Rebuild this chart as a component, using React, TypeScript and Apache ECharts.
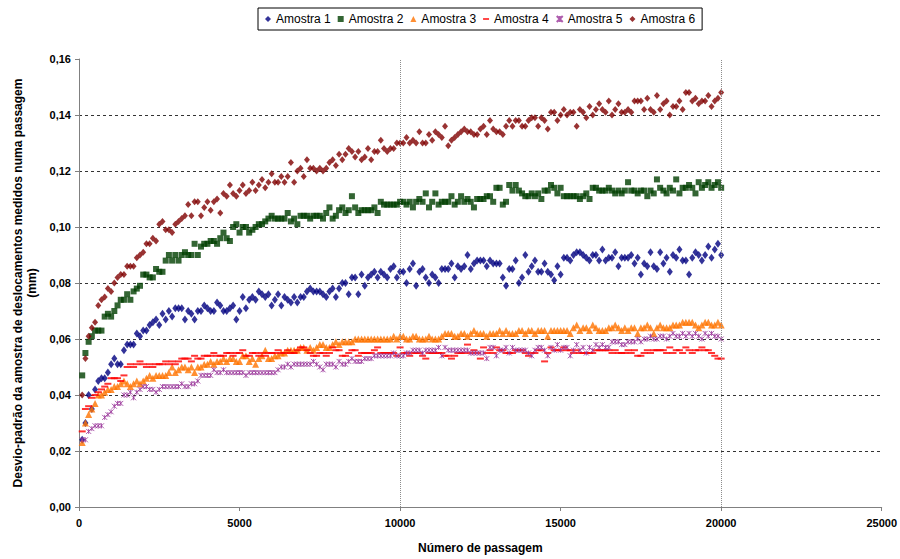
import React, { useEffect, useRef } from "react";
import * as echarts from "echarts";

const passagens = [
  100, 200, 300, 400, 500, 600, 700, 800, 900, 1000, 1100, 1200, 1300, 1400, 1500, 1600, 1700, 1800, 1900, 2000,
  2100, 2200, 2300, 2400, 2500, 2600, 2700, 2800, 2900, 3000, 3100, 3200, 3300, 3400, 3500, 3600, 3700, 3800, 3900, 4000,
  4100, 4200, 4300, 4400, 4500, 4600, 4700, 4800, 4900, 5000, 5100, 5200, 5300, 5400, 5500, 5600, 5700, 5800, 5900, 6000,
  6100, 6200, 6300, 6400, 6500, 6600, 6700, 6800, 6900, 7000, 7100, 7200, 7300, 7400, 7500, 7600, 7700, 7800, 7900, 8000,
  8100, 8200, 8300, 8400, 8500, 8600, 8700, 8800, 8900, 9000, 9100, 9200, 9300, 9400, 9500, 9600, 9700, 9800, 9900, 10000,
  10100, 10200, 10300, 10400, 10500, 10600, 10700, 10800, 10900, 11000, 11100, 11200, 11300, 11400, 11500, 11600, 11700, 11800, 11900, 12000,
  12100, 12200, 12300, 12400, 12500, 12600, 12700, 12800, 12900, 13000, 13100, 13200, 13300, 13400, 13500, 13600, 13700, 13800, 13900, 14000,
  14100, 14200, 14300, 14400, 14500, 14600, 14700, 14800, 14900, 15000, 15100, 15200, 15300, 15400, 15500, 15600, 15700, 15800, 15900, 16000,
  16100, 16200, 16300, 16400, 16500, 16600, 16700, 16800, 16900, 17000, 17100, 17200, 17300, 17400, 17500, 17600, 17700, 17800, 17900, 18000,
  18100, 18200, 18300, 18400, 18500, 18600, 18700, 18800, 18900, 19000, 19100, 19200, 19300, 19400, 19500, 19600, 19700, 19800, 19900, 20000,
];

const amostra1 = [
  0.024, 0.030, 0.040, 0.035, 0.042, 0.045, 0.046, 0.046, 0.048, 0.051,
  0.053, 0.051, 0.051, 0.056, 0.058, 0.058, 0.058, 0.062, 0.061, 0.063,
  0.063, 0.065, 0.066, 0.067, 0.065, 0.069, 0.067, 0.070, 0.068, 0.071,
  0.071, 0.071, 0.067, 0.070, 0.069, 0.067, 0.070, 0.070, 0.072, 0.071,
  0.070, 0.070, 0.073, 0.072, 0.070, 0.070, 0.071, 0.072, 0.067, 0.070,
  0.075, 0.071, 0.074, 0.075, 0.074, 0.077, 0.076, 0.075, 0.076, 0.072,
  0.074, 0.076, 0.072, 0.075, 0.074, 0.073, 0.075, 0.073, 0.075, 0.075,
  0.077, 0.078, 0.077, 0.077, 0.077, 0.076, 0.075, 0.077, 0.078, 0.075,
  0.078, 0.080, 0.080, 0.076, 0.082, 0.082, 0.076, 0.083, 0.079, 0.082,
  0.083, 0.084, 0.082, 0.084, 0.083, 0.082, 0.085, 0.086, 0.082, 0.084,
  0.084, 0.080, 0.085, 0.087, 0.079, 0.084, 0.085, 0.082, 0.080, 0.083,
  0.082, 0.080, 0.085, 0.085, 0.085, 0.087, 0.082, 0.086, 0.085, 0.086,
  0.090, 0.085, 0.087, 0.088, 0.088, 0.088, 0.086, 0.088, 0.087, 0.087,
  0.087, 0.082, 0.079, 0.085, 0.085, 0.088, 0.080, 0.082, 0.090, 0.084,
  0.086, 0.088, 0.084, 0.084, 0.087, 0.084, 0.083, 0.081, 0.086, 0.083,
  0.089, 0.089, 0.088, 0.090, 0.091, 0.091, 0.090, 0.089, 0.088, 0.090,
  0.090, 0.088, 0.092, 0.088, 0.089, 0.089, 0.091, 0.086, 0.089, 0.089,
  0.089, 0.090, 0.087, 0.089, 0.083, 0.087, 0.086, 0.091, 0.086, 0.085,
  0.091, 0.087, 0.089, 0.084, 0.090, 0.089, 0.092, 0.088, 0.088, 0.083,
  0.089, 0.091, 0.090, 0.088, 0.090, 0.093, 0.089, 0.092, 0.094, 0.090,
];

const amostra2 = [
  0.047, 0.055, 0.059, 0.061, 0.063, 0.063, 0.063, 0.068, 0.069, 0.068,
  0.070, 0.072, 0.074, 0.074, 0.076, 0.074, 0.077, 0.078, 0.079, 0.083,
  0.083, 0.082, 0.082, 0.085, 0.084, 0.084, 0.088, 0.090, 0.088, 0.090,
  0.088, 0.090, 0.091, 0.090, 0.090, 0.094, 0.090, 0.093, 0.094, 0.094,
  0.095, 0.095, 0.094, 0.096, 0.098, 0.096, 0.095, 0.100, 0.101, 0.098,
  0.100, 0.100, 0.098, 0.099, 0.100, 0.101, 0.101, 0.102, 0.103, 0.104,
  0.103, 0.103, 0.103, 0.103, 0.105, 0.102, 0.103, 0.101, 0.104, 0.104,
  0.104, 0.103, 0.104, 0.104, 0.104, 0.103, 0.105, 0.107, 0.103, 0.104,
  0.106, 0.107, 0.105, 0.106, 0.111, 0.107, 0.105, 0.106, 0.106, 0.106,
  0.106, 0.107, 0.105, 0.109, 0.108, 0.108, 0.108, 0.108, 0.108, 0.109,
  0.109, 0.108, 0.109, 0.107, 0.109, 0.110, 0.109, 0.112, 0.107, 0.109,
  0.112, 0.108, 0.109, 0.109, 0.109, 0.111, 0.108, 0.109, 0.111, 0.109,
  0.110, 0.109, 0.107, 0.110, 0.110, 0.110, 0.111, 0.111, 0.109, 0.114,
  0.114, 0.108, 0.109, 0.115, 0.113, 0.115, 0.113, 0.112, 0.111, 0.111,
  0.112, 0.111, 0.112, 0.110, 0.113, 0.113, 0.115, 0.114, 0.112, 0.114,
  0.111, 0.111, 0.111, 0.111, 0.111, 0.110, 0.111, 0.112, 0.110, 0.114,
  0.114, 0.113, 0.113, 0.113, 0.114, 0.113, 0.112, 0.113, 0.112, 0.113,
  0.116, 0.113, 0.113, 0.112, 0.113, 0.113, 0.111, 0.113, 0.112, 0.117,
  0.114, 0.113, 0.112, 0.114, 0.113, 0.117, 0.112, 0.114, 0.114, 0.115,
  0.114, 0.112, 0.116, 0.114, 0.115, 0.116, 0.114, 0.115, 0.116, 0.114,
];

const amostra3 = [
  0.023, 0.030, 0.033, 0.035, 0.037, 0.040, 0.040, 0.041, 0.042, 0.042,
  0.043, 0.043, 0.044, 0.045, 0.044, 0.043, 0.044, 0.045, 0.044, 0.045,
  0.046, 0.047, 0.046, 0.047, 0.047, 0.047, 0.047, 0.048, 0.050, 0.048,
  0.049, 0.050, 0.050, 0.049, 0.050, 0.048, 0.050, 0.050, 0.051, 0.051,
  0.052, 0.051, 0.052, 0.052, 0.053, 0.052, 0.053, 0.053, 0.052, 0.052,
  0.054, 0.054, 0.052, 0.053, 0.051, 0.053, 0.054, 0.056, 0.053, 0.053,
  0.054, 0.054, 0.055, 0.055, 0.056, 0.056, 0.056, 0.056, 0.057, 0.057,
  0.056, 0.057, 0.056, 0.057, 0.058, 0.058, 0.057, 0.057, 0.058, 0.059,
  0.058, 0.059, 0.059, 0.059, 0.059, 0.060, 0.060, 0.060, 0.060, 0.060,
  0.060, 0.060, 0.060, 0.060, 0.060, 0.060, 0.060, 0.061, 0.060, 0.061,
  0.061, 0.060, 0.060, 0.061, 0.061, 0.060, 0.060, 0.060, 0.061, 0.060,
  0.060, 0.060, 0.061, 0.062, 0.062, 0.062, 0.061, 0.061, 0.062, 0.062,
  0.061, 0.062, 0.063, 0.062, 0.062, 0.062, 0.061, 0.062, 0.062, 0.062,
  0.063, 0.062, 0.063, 0.062, 0.062, 0.062, 0.063, 0.063, 0.062, 0.063,
  0.063, 0.062, 0.063, 0.063, 0.063, 0.061, 0.063, 0.063, 0.063, 0.063,
  0.063, 0.063, 0.062, 0.064, 0.065, 0.063, 0.064, 0.064, 0.063, 0.065,
  0.064, 0.063, 0.063, 0.063, 0.064, 0.064, 0.065, 0.064, 0.063, 0.064,
  0.063, 0.064, 0.064, 0.062, 0.064, 0.064, 0.065, 0.064, 0.062, 0.064,
  0.065, 0.064, 0.064, 0.064, 0.065, 0.065, 0.065, 0.066, 0.066, 0.066,
  0.066, 0.065, 0.064, 0.065, 0.066, 0.066, 0.065, 0.065, 0.066, 0.065,
];

const amostra4 = [
  0.027, 0.035, 0.036, 0.039, 0.040, 0.041, 0.042, 0.043, 0.044, 0.046,
  0.046, 0.046, 0.045, 0.047, 0.050, 0.051, 0.050, 0.051, 0.052, 0.051,
  0.050, 0.051, 0.050, 0.051, 0.051, 0.051, 0.052, 0.051, 0.052, 0.051,
  0.052, 0.053, 0.053, 0.053, 0.052, 0.054, 0.053, 0.053, 0.054, 0.054,
  0.054, 0.055, 0.054, 0.054, 0.054, 0.055, 0.055, 0.054, 0.055, 0.055,
  0.056, 0.054, 0.054, 0.055, 0.055, 0.054, 0.055, 0.054, 0.055, 0.055,
  0.055, 0.056, 0.055, 0.055, 0.056, 0.055, 0.055, 0.056, 0.057, 0.057,
  0.056, 0.055, 0.054, 0.054, 0.055, 0.055, 0.054, 0.055, 0.057, 0.056,
  0.056, 0.054, 0.054, 0.055, 0.056, 0.056, 0.054, 0.055, 0.055, 0.055,
  0.055, 0.056, 0.057, 0.055, 0.055, 0.055, 0.055, 0.055, 0.054, 0.057,
  0.055, 0.055, 0.054, 0.055, 0.055, 0.055, 0.054, 0.053, 0.055, 0.055,
  0.055, 0.055, 0.055, 0.054, 0.054, 0.053, 0.054, 0.055, 0.055, 0.055,
  0.058, 0.055, 0.056, 0.055, 0.053, 0.057, 0.055, 0.056, 0.055, 0.057,
  0.056, 0.056, 0.055, 0.055, 0.055, 0.056, 0.056, 0.056, 0.055, 0.054,
  0.055, 0.055, 0.056, 0.056, 0.052, 0.055, 0.057, 0.056, 0.056, 0.056,
  0.057, 0.056, 0.056, 0.055, 0.056, 0.055, 0.055, 0.055, 0.055, 0.055,
  0.056, 0.056, 0.056, 0.056, 0.056, 0.055, 0.056, 0.055, 0.055, 0.055,
  0.056, 0.055, 0.056, 0.054, 0.054, 0.055, 0.056, 0.055, 0.056, 0.056,
  0.056, 0.056, 0.055, 0.057, 0.055, 0.056, 0.056, 0.055, 0.057, 0.056,
  0.055, 0.056, 0.056, 0.057, 0.056, 0.056, 0.055, 0.054, 0.053, 0.053,
];

const amostra5 = [
  0.024, 0.024, 0.027, 0.028, 0.029, 0.029, 0.029, 0.032, 0.033, 0.034,
  0.036, 0.037, 0.037, 0.040, 0.040, 0.041, 0.039, 0.041, 0.042, 0.043,
  0.043, 0.042, 0.042, 0.041, 0.042, 0.043, 0.043, 0.043, 0.043, 0.043,
  0.043, 0.044, 0.043, 0.043, 0.044, 0.044, 0.045, 0.047, 0.047, 0.047,
  0.047, 0.049, 0.048, 0.048, 0.049, 0.048, 0.048, 0.048, 0.048, 0.048,
  0.048, 0.047, 0.048, 0.048, 0.048, 0.048, 0.048, 0.048, 0.048, 0.048,
  0.048, 0.049, 0.050, 0.050, 0.051, 0.050, 0.051, 0.051, 0.051, 0.051,
  0.051, 0.051, 0.052, 0.051, 0.050, 0.049, 0.051, 0.051, 0.051, 0.050,
  0.052, 0.051, 0.051, 0.052, 0.053, 0.052, 0.052, 0.052, 0.053, 0.053,
  0.053, 0.054, 0.054, 0.054, 0.054, 0.054, 0.054, 0.055, 0.054, 0.054,
  0.054, 0.055, 0.055, 0.056, 0.056, 0.056, 0.055, 0.056, 0.056, 0.056,
  0.056, 0.057, 0.054, 0.057, 0.056, 0.056, 0.056, 0.056, 0.056, 0.056,
  0.056, 0.055, 0.055, 0.055, 0.055, 0.055, 0.053, 0.057, 0.057, 0.054,
  0.056, 0.056, 0.057, 0.055, 0.057, 0.056, 0.056, 0.056, 0.056, 0.055,
  0.054, 0.056, 0.057, 0.057, 0.056, 0.054, 0.057, 0.056, 0.058, 0.056,
  0.057, 0.057, 0.054, 0.056, 0.058, 0.056, 0.057, 0.055, 0.057, 0.056,
  0.058, 0.057, 0.058, 0.057, 0.057, 0.059, 0.059, 0.059, 0.058, 0.058,
  0.059, 0.059, 0.059, 0.060, 0.059, 0.060, 0.060, 0.061, 0.060, 0.060,
  0.061, 0.061, 0.060, 0.061, 0.062, 0.061, 0.061, 0.062, 0.061, 0.062,
  0.061, 0.062, 0.061, 0.060, 0.062, 0.061, 0.062, 0.061, 0.061, 0.060,
];

const amostra6 = [
  0.040, 0.053, 0.061, 0.064, 0.066, 0.072, 0.074, 0.075, 0.078, 0.077,
  0.080, 0.082, 0.083, 0.083, 0.086, 0.086, 0.086, 0.089, 0.090, 0.091,
  0.094, 0.094, 0.096, 0.095, 0.101, 0.102, 0.099, 0.099, 0.098, 0.101,
  0.102, 0.103, 0.104, 0.108, 0.104, 0.109, 0.109, 0.104, 0.107, 0.109,
  0.106, 0.109, 0.110, 0.105, 0.112, 0.111, 0.115, 0.112, 0.111, 0.113,
  0.115, 0.112, 0.113, 0.116, 0.113, 0.115, 0.117, 0.114, 0.116, 0.119,
  0.116, 0.116, 0.118, 0.116, 0.118, 0.123, 0.116, 0.120, 0.121, 0.118,
  0.124, 0.121, 0.121, 0.120, 0.121, 0.120, 0.121, 0.123, 0.124, 0.122,
  0.126, 0.124, 0.126, 0.128, 0.127, 0.125, 0.127, 0.124, 0.125, 0.128,
  0.124, 0.127, 0.127, 0.131, 0.128, 0.127, 0.128, 0.128, 0.130, 0.130,
  0.130, 0.132, 0.130, 0.131, 0.130, 0.134, 0.130, 0.130, 0.133, 0.131,
  0.134, 0.133, 0.132, 0.136, 0.129, 0.131, 0.132, 0.133, 0.134, 0.135,
  0.134, 0.134, 0.133, 0.133, 0.135, 0.136, 0.133, 0.138, 0.135, 0.134,
  0.134, 0.133, 0.136, 0.138, 0.136, 0.138, 0.138, 0.136, 0.136, 0.138,
  0.139, 0.139, 0.136, 0.139, 0.138, 0.135, 0.141, 0.141, 0.138, 0.140,
  0.142, 0.140, 0.141, 0.141, 0.136, 0.142, 0.141, 0.139, 0.143, 0.140,
  0.142, 0.144, 0.142, 0.141, 0.145, 0.140, 0.142, 0.144, 0.141, 0.141,
  0.142, 0.141, 0.145, 0.145, 0.145, 0.142, 0.146, 0.142, 0.141, 0.147,
  0.142, 0.144, 0.145, 0.140, 0.143, 0.143, 0.145, 0.142, 0.148, 0.148,
  0.145, 0.146, 0.144, 0.145, 0.145, 0.147, 0.143, 0.145, 0.146, 0.148,
];

const seriesNames = ["Amostra 1", "Amostra 2", "Amostra 3", "Amostra 4", "Amostra 5", "Amostra 6"];
const linhasVerticais = [10000, 20000];

const FONT = "'Liberation Sans', Arial, sans-serif";

export default function App() {
  const ref = useRef<HTMLDivElement>(null);

  useEffect(() => {
    document.body.style.margin = "0";
    if (!ref.current) return;
    const chart = echarts.init(ref.current, undefined, { renderer: "svg" });

    const pair = (ys: number[]) => passagens.map((x, i) => [x, ys[i]]);
    const starPath = "path://M0,0L10,10M10,0L0,10M5,0L5,10";
    const dashPath = "path://M0,0H10V3H0Z";

    const defs = [
      { name: seriesNames[0], data: amostra1, symbol: "diamond", size: [6, 8], color: "#000080" },
      { name: seriesNames[1], data: amostra2, symbol: "rect", size: 6, color: "#003f00" },
      { name: seriesNames[2], data: amostra3, symbol: "triangle", size: 7, color: "#ff7300" },
      { name: seriesNames[3], data: amostra4, symbol: dashPath, size: [7, 2], color: "#ff0000" },
      { name: seriesNames[4], data: amostra5, symbol: starPath, size: 5, color: "#993399", stroke: true },
      { name: seriesNames[5], data: amostra6, symbol: "diamond", size: [6, 7], color: "#800000" },
    ];

    const series: any[] = defs.map((d: any) => ({
      type: "scatter",
      name: d.name,
      data: pair(d.data),
      symbol: d.symbol,
      symbolSize: d.size,
      symbolKeepAspect: false,
      z: 3,
      itemStyle: d.stroke
        ? { color: d.color, borderColor: d.color, borderWidth: 1 }
        : { color: d.color },
      emphasis: { disabled: true },
    }));

    series.unshift({
      type: "scatter",
      name: "grade",
      data: [],
      z: 1,
      silent: true,
      markLine: {
        silent: true,
        symbol: "none",
        label: { show: false },
        lineStyle: { color: "#8c8c8c", type: [1, 1], width: 1 },
        data: linhasVerticais.map((v) => ({ xAxis: v })),
      },
    });

    chart.setOption({
      animation: false,
      backgroundColor: "#ffffff",
      textStyle: { fontFamily: FONT },
      legend: {
        data: seriesNames.map((n, i) => ({
          name: n,
          icon: i === 3 ? "path://M0,0H10V3H0Z" : undefined,
        })),
        left: 258,
        top: 8,
        padding: [5, 7],
        itemGap: 7,
        itemWidth: 6,
        itemHeight: 6,
        borderColor: "#000000",
        borderWidth: 1,
        backgroundColor: "#ffffff",
        textStyle: { fontFamily: FONT, fontSize: 12, color: "#000" },
      },
      grid: { left: 79, right: 17, top: 59, bottom: 49, containLabel: false },
      xAxis: {
        type: "value",
        min: 0,
        max: 25000,
        interval: 5000,
        name: "Número de passagem",
        nameLocation: "middle",
        nameGap: 35,
        nameTextStyle: { fontFamily: FONT, fontWeight: "bold", fontSize: 12, color: "#000" },
        axisLine: { show: true, lineStyle: { color: "#808080", width: 1 } },
        axisTick: { show: true, length: 4, lineStyle: { color: "#808080" } },
        axisLabel: {
          fontFamily: FONT,
          fontWeight: "bold",
          fontSize: 11,
          color: "#000",
          margin: 10,
          formatter: (v: number) => String(v),
        },
        splitLine: { show: false },
      },
      yAxis: {
        type: "value",
        min: 0,
        max: 0.16,
        interval: 0.02,
        name: "Desvio-padrão da amostra de deslocamentos medidos numa passagem\n(mm)",
        nameLocation: "middle",
        nameRotate: 90,
        nameGap: 40,
        nameTextStyle: { fontFamily: FONT, fontWeight: "bold", fontSize: 12, color: "#000", lineHeight: 14 },
        axisLine: { show: true, onZero: false, lineStyle: { color: "#808080", width: 1 } },
        axisTick: { show: true, length: 4, lineStyle: { color: "#808080" } },
        axisLabel: {
          fontFamily: FONT,
          fontWeight: "bold",
          fontSize: 11,
          color: "#000",
          margin: 8,
          formatter: (v: number) => v.toFixed(2).replace(".", ","),
        },
        splitLine: {
          show: true,
          showMinLine: false,
          showMaxLine: false,
          lineStyle: { color: "#333333", type: [3, 3], width: 1 },
        },
      },
      series,
    });

    return () => chart.dispose();
  }, []);

  return <div ref={ref} style={{ width: 900, height: 559 }} />;
}
